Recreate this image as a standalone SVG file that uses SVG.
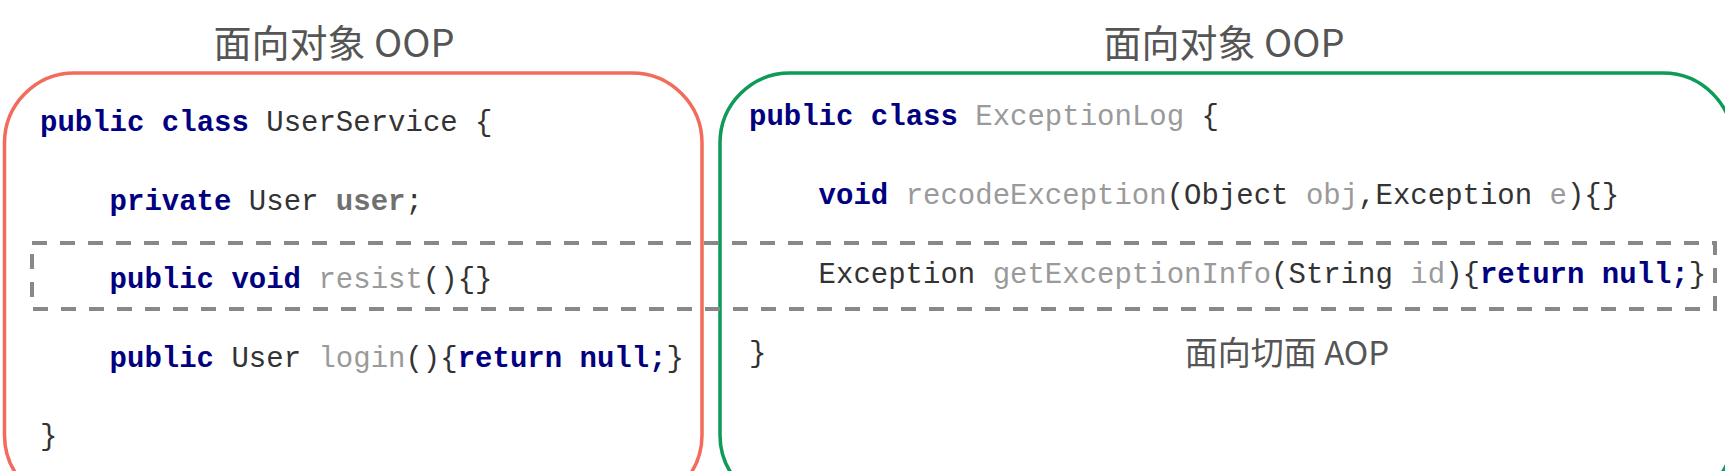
<svg xmlns="http://www.w3.org/2000/svg" width="1725" height="471" viewBox="0 0 1725 471">
<style>
.title{font-family:"Noto Sans CJK SC","Liberation Sans",sans-serif;fill:#555555;text-anchor:middle}
.code{font-family:"Liberation Mono","Courier New",monospace;font-size:29px;fill:#333333;white-space:pre}
.kw{fill:#000080;font-weight:bold}
.lt{fill:#9a9a9a}
.fld{fill:#707070;font-weight:bold}
.dk{fill:#333333}
.frame{fill:none;stroke-width:3.5}
</style>
<rect width="1725" height="471" fill="#ffffff"/>
<g id="oop-left">
  <text class="title" x="334" y="57" font-size="38">面向对象 OOP</text>
  <rect class="frame" x="4.5" y="73" width="697.5" height="432" rx="70" ry="70" stroke="#F26B5B"/>
  <text class="code" x="40" y="131"><tspan class="kw">public class</tspan> <tspan class="dk">UserService {</tspan></text>
  <text class="code" x="109.6" y="209.5"><tspan class="kw">private</tspan> User <tspan class="fld">user</tspan>;</text>
  <text class="code" x="109.6" y="288"><tspan class="kw">public void</tspan> <tspan class="lt">resist</tspan>(){}</text>
  <text class="code" x="109.6" y="366.5"><tspan class="kw">public</tspan> User <tspan class="lt">login</tspan>(){<tspan class="kw">return null;</tspan>}</text>
  <text class="code" x="40" y="444.5">}</text>
</g>
<g id="oop-right">
  <text class="title" x="1224" y="57" font-size="38">面向对象 OOP</text>
  <rect class="frame" x="720" y="73" width="1013" height="432" rx="70" ry="70" stroke="#0E9A57"/>
  <text class="code" x="749" y="125"><tspan class="kw">public class</tspan> <tspan class="lt">ExceptionLog</tspan> {</text>
  <text class="code" x="818.6" y="204"><tspan class="kw">void</tspan> <tspan class="lt">recodeException</tspan>(Object <tspan class="lt">obj</tspan>,Exception <tspan class="lt">e</tspan>){}</text>
  <text class="code" x="818.6" y="283">Exception <tspan class="lt">getExceptionInfo</tspan>(String <tspan class="lt">id</tspan>){<tspan class="kw">return null;</tspan>}</text>
  <text class="code" x="749" y="362">}</text>
</g>
<g id="aop">
  <rect x="32" y="243" width="1683" height="66" fill="none" stroke="#888888" stroke-width="4" stroke-dasharray="15 13"/>
  <text class="title" x="1287" y="364.5" font-size="33">面向切面 AOP</text>
</g>
<g id="connectors"/>
</svg>
